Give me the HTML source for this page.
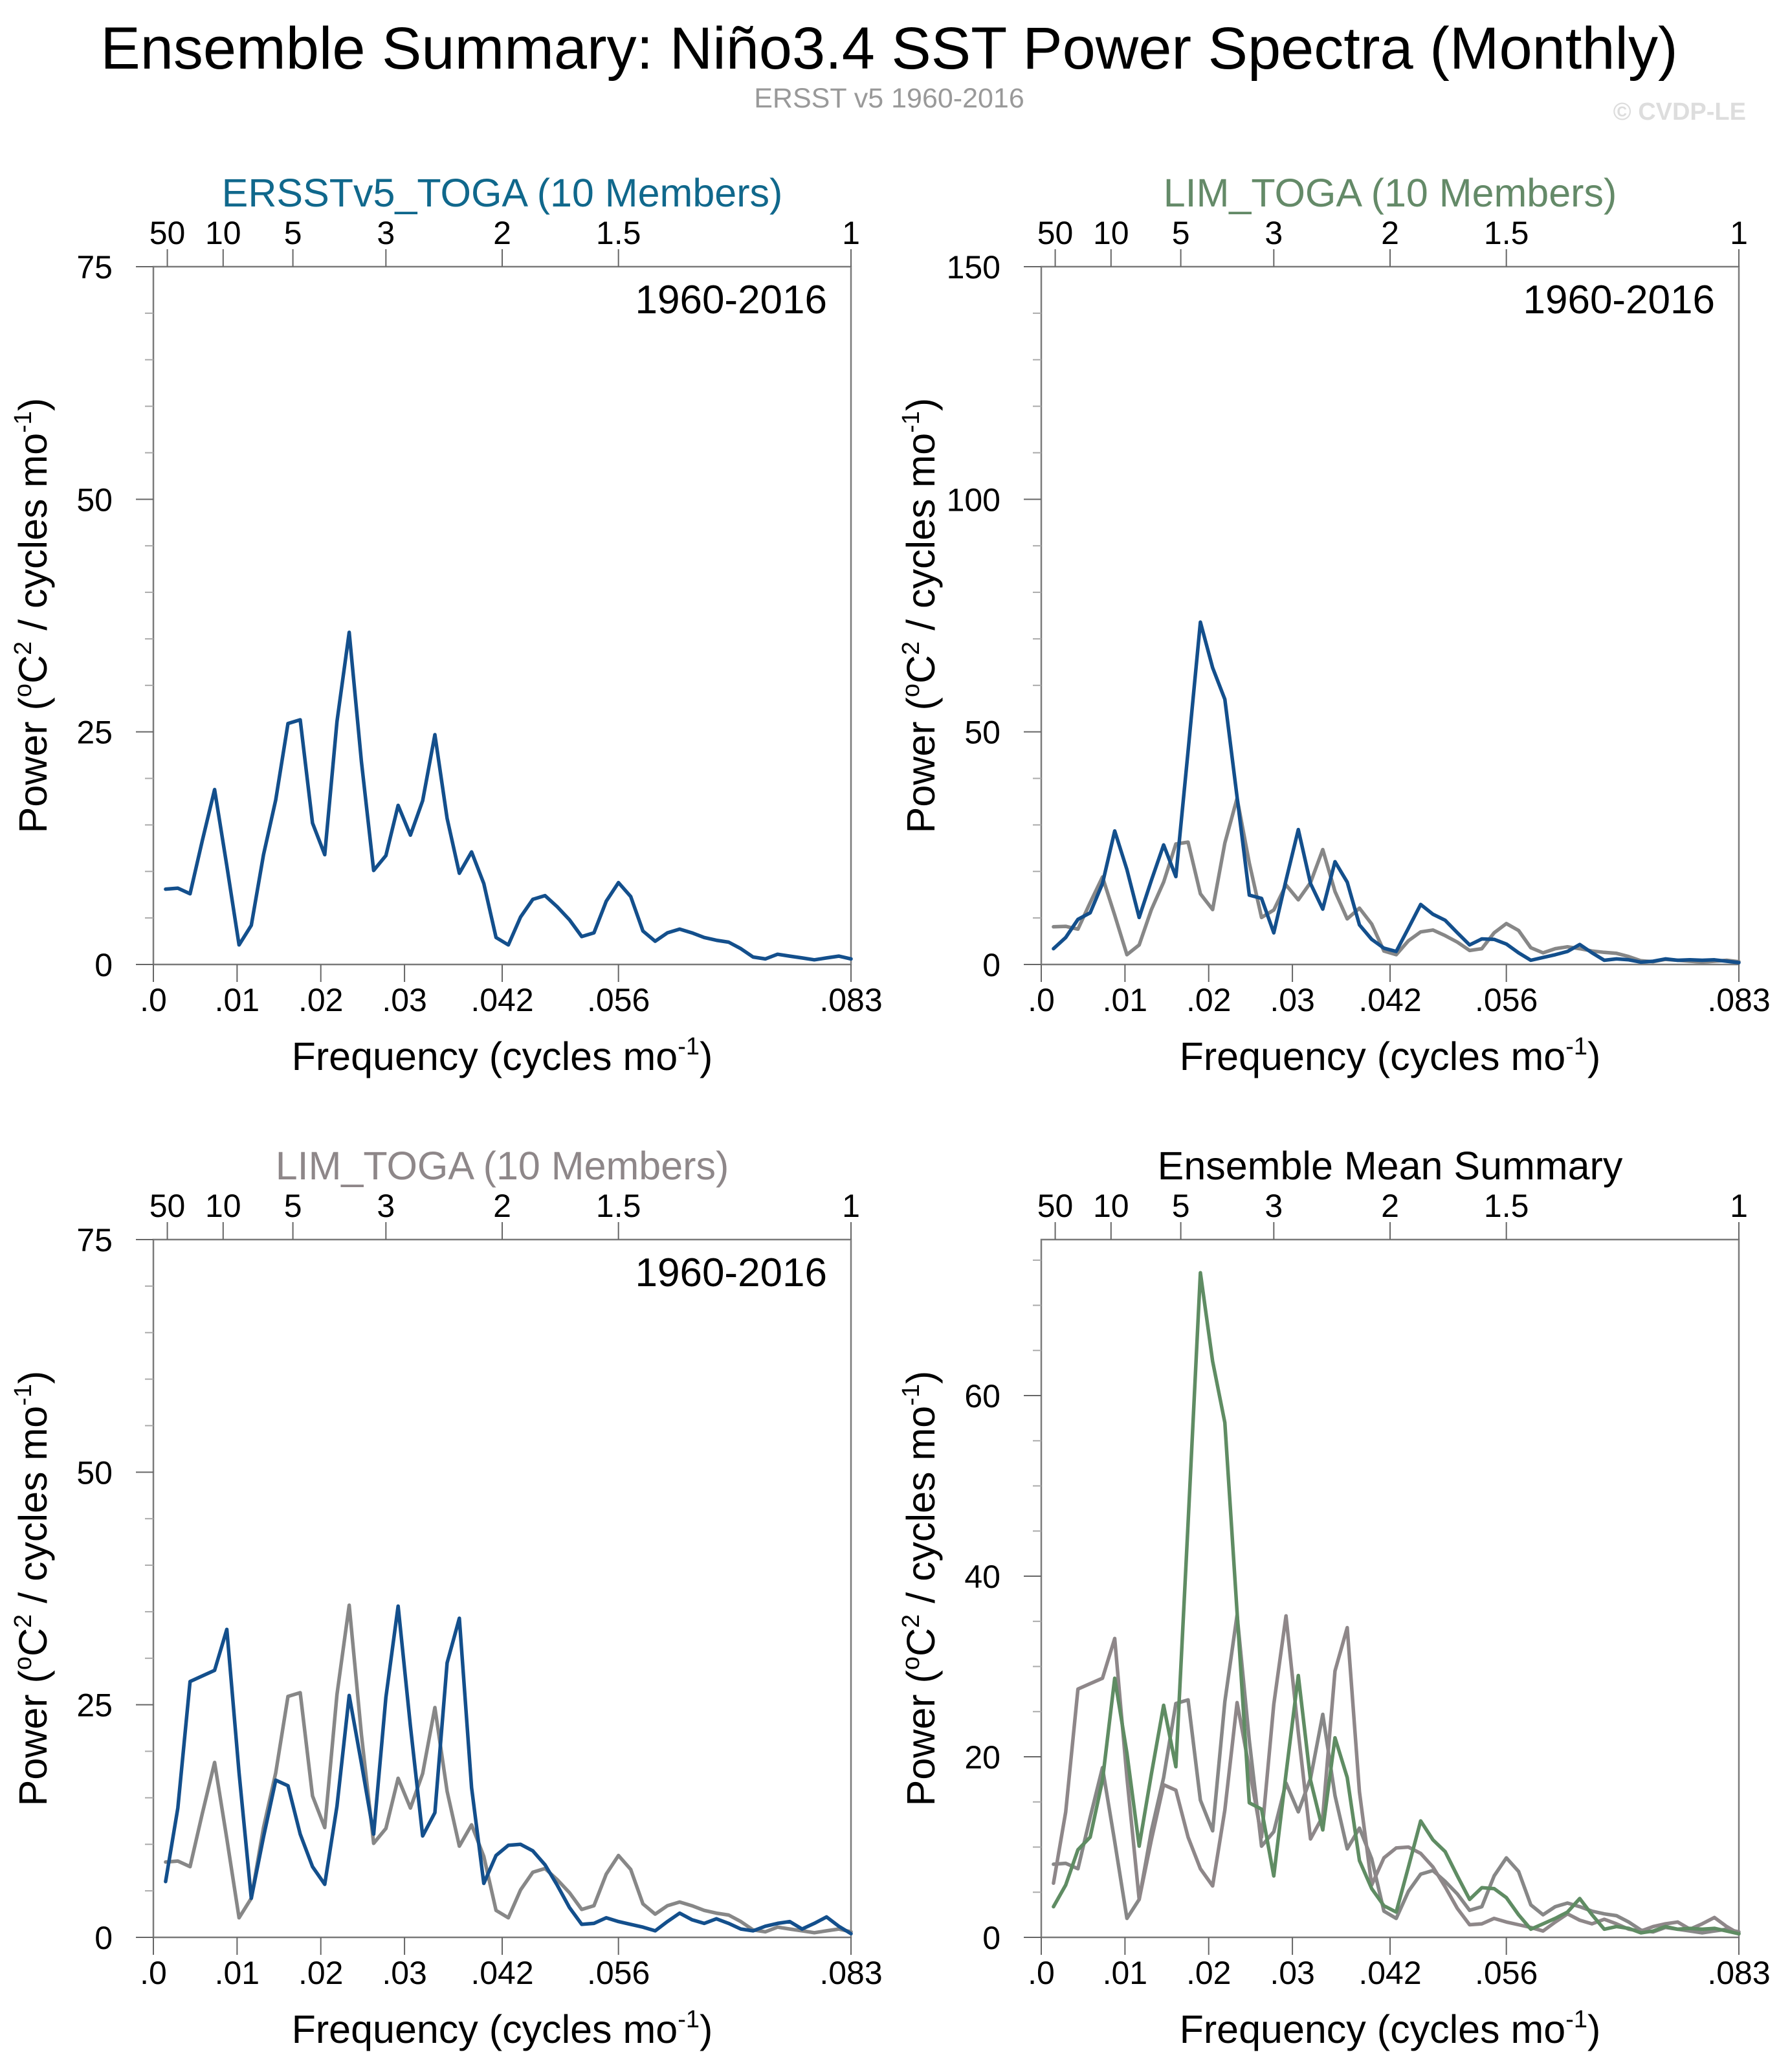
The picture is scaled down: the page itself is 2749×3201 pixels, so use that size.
<!DOCTYPE html>
<html><head><meta charset="utf-8">
<style>
html,body{margin:0;padding:0;background:#fff;}
svg{display:block;font-family:"Liberation Sans",sans-serif;}
</style></head>
<body>
<svg id="chart" width="2749" height="3201" viewBox="0 0 2749 3201" xmlns="http://www.w3.org/2000/svg">
  <rect x="0" y="0" width="2749" height="3201" fill="#fff"/>
  <text x="1374" y="106" font-size="92" text-anchor="middle" fill="#000">Ensemble Summary: Niño3.4 SST Power Spectra (Monthly)</text>
  <text x="1374" y="166" font-size="43" text-anchor="middle" fill="#999">ERSST v5 1960-2016</text>
  <text x="2698" y="185" font-size="38" font-weight="bold" text-anchor="end" fill="#ddd">© CVDP-LE</text>
</svg>
<script>
// data: 57 spectral estimates, frequency k/684 cycles per month
const ersst = [8.1,8.2,7.6,13.3,18.8,10.6,2.1,4.2,11.8,17.7,25.9,26.3,15.2,11.8,26.1,35.7,21.8,10.1,11.7,17.1,13.9,17.6,24.7,15.7,9.8,12.1,8.7,2.9,2.1,5.1,7.0,7.4,6.2,4.8,3.0,3.4,6.8,8.8,7.3,3.6,2.5,3.4,3.8,3.4,2.9,2.6,2.4,1.7,0.8,0.6,1.1,0.9,0.7,0.5,0.7,0.9,0.6];
const limA = [3.4,5.8,9.7,11.1,17.4,28.7,20.4,10.1,18.1,25.7,18.9,45.9,73.6,63.8,57.0,36.0,14.9,14.2,6.8,18.1,29.0,17.4,11.9,22.1,17.7,8.5,5.4,3.5,2.8,7.8,12.9,10.8,9.5,6.8,4.2,5.5,5.4,4.4,2.5,0.9,1.5,2.1,2.8,4.3,2.5,0.9,1.2,1.0,0.5,0.7,1.2,0.9,1.0,0.9,1.0,0.7,0.4];
const limB = [6.0,13.9,27.5,28.1,28.7,33.1,17.7,4.2,10.8,16.9,16.3,11.1,7.6,5.7,14.1,26.0,18.7,11.1,25.8,35.6,22.7,10.9,13.4,29.5,34.3,16.1,5.8,8.8,9.9,10.0,9.3,7.8,5.6,3.2,1.4,1.5,2.1,1.7,1.4,1.1,0.7,1.7,2.6,1.9,1.5,2.0,1.5,0.9,0.7,1.2,1.5,1.7,0.9,1.5,2.2,1.2,0.4];
const nMonths = 684;
const xTickVals = [0,0.01,0.02,0.03,1/24,1/18,1/12];
const xTickLabels = [".0",".01",".02",".03",".042",".056",".083"];
const periodVals = [50,10,5,3,2,1.5,1];
const periodLabels = ["50","10","5","3","2","1.5","1"];

const NS="http://www.w3.org/2000/svg";
const svg=document.getElementById('chart');
const XMAX=1/12;
function mk(tag,attrs,parent){const e=document.createElementNS(NS,tag);for(const k in attrs)e.setAttribute(k,attrs[k]);(parent||svg).appendChild(e);return e;}

const BLUE="#134f8c", GRAY="#878787", GRAY2="#8e8789", GREEN="#5f8c63";
const panels=[
 {name:'ersst-panel',L:237,T:412,title:'ERSSTv5_TOGA (10 Members)',tcol:'#10688c',ymax:75,major:25,minor:5,period:true,
  series:[{d:ersst,c:BLUE,n:'ersst-line'}]},
 {name:'lim-toga-a-panel',L:1609,T:412,title:'LIM_TOGA (10 Members)',tcol:'#648a68',ymax:150,major:50,minor:10,period:true,
  series:[{d:ersst,c:GRAY,n:'ersst-line'},{d:limA,c:BLUE,n:'lim-toga-line'}]},
 {name:'lim-toga-b-panel',L:237,T:1915,title:'LIM_TOGA (10 Members)',tcol:'#8e8789',ymax:75,major:25,minor:5,period:true,
  series:[{d:ersst,c:GRAY,n:'ersst-line'},{d:limB,c:BLUE,n:'lim-toga-line'}]},
 {name:'ensemble-mean-panel',L:1609,T:1915,title:'Ensemble Mean Summary',tcol:'#000',ymax:null,major:20,minor:5,period:false,
  series:[{d:ersst,c:GRAY,n:'ersst-line'},{d:limB,c:GRAY2,n:'lim-toga-b-line'},{d:limA,c:GREEN,n:'lim-toga-a-line'}]}
];
const W=1078,H=1078;
panels.forEach(p=>{
  const g=mk('g',{});
  
  
  let ymax=p.ymax;
  if(ymax===null){let m=0;p.series.forEach(s=>s.d.forEach(v=>{if(v>m)m=v;}));ymax=m*1.05;}
  const x=f=>p.L+f/XMAX*W;
  const y=v=>p.T+H-v/ymax*H;
  const t=mk('text',{x:p.L+W/2,y:p.T-93,'font-size':61,'text-anchor':'middle',fill:p.tcol},g);
  t.textContent=p.title;
  
  
  const fr=mk('rect',{x:p.L,y:p.T,width:W,height:H,fill:'none',stroke:'#7a7a7a','stroke-width':2.5},g);
  
  
  for(let v=0;v<=ymax+1e-9;v+=p.minor){
    const maj=Math.abs(v/p.major-Math.round(v/p.major))<1e-9;
    const tk=mk('line',{x1:p.L-(maj?27:13),x2:p.L,y1:y(v),y2:y(v),stroke:maj?'#666':'#aaa','stroke-width':2},g);
    
    
    if(maj){
      const lb=mk('text',{x:p.L-63,y:y(v)+18,'font-size':50,'text-anchor':'end',fill:'#000'},g);
      lb.textContent=String(Math.round(v));
      
      
    }
  }
  xTickVals.forEach((f,i)=>{
    const tk=mk('line',{x1:x(f),x2:x(f),y1:p.T+H,y2:p.T+H+27,stroke:'#666','stroke-width':2},g);
    
    
    const lb=mk('text',{x:x(f),y:p.T+H+72,'font-size':50,'text-anchor':'middle',fill:'#000'},g);
    lb.textContent=xTickLabels[i];
    
    
  });
  periodVals.forEach((per,i)=>{
    const f=1/(12*per);
    const tk=mk('line',{x1:x(f),x2:x(f),y1:p.T-27,y2:p.T,stroke:'#666','stroke-width':2},g);
    
    
    const lb=mk('text',{x:x(f),y:p.T-35,'font-size':50,'text-anchor':'middle',fill:'#000'},g);
    lb.textContent=periodLabels[i];
    
    
  });
  const xt=mk('text',{x:p.L+W/2,y:p.T+H+163,'font-size':61,'text-anchor':'middle',fill:'#000'},g);
  xt.innerHTML='Frequency (cycles mo<tspan dy="-24" font-size="38">-1</tspan><tspan dy="24">)</tspan>';
  
  
  const cx=p.L-165, cy=p.T+H/2;
  const yt=mk('text',{x:cx,y:cy,'font-size':61,'text-anchor':'middle',fill:'#000',transform:`rotate(-90 ${cx} ${cy})`},g);
  yt.innerHTML='Power (<tspan dy="-24" font-size="38">o</tspan><tspan dy="24">C</tspan><tspan dy="-24" font-size="38">2</tspan><tspan dy="24"> / cycles mo</tspan><tspan dy="-24" font-size="38">-1</tspan><tspan dy="24">)</tspan>';
  
  
  if(p.period){
    const yr=mk('text',{x:p.L+W-37,y:p.T+72,'font-size':62,'text-anchor':'end',fill:'#000'},g);
    yr.textContent='1960-2016';
    
    
  }
  p.series.forEach(s=>{
    const pts=s.d.map((v,i)=>x((i+1)/nMonths).toFixed(1)+','+y(v).toFixed(1)).join(' ');
    const pl=mk('polyline',{points:pts,fill:'none',stroke:s.c,'stroke-width':5.5,'stroke-linejoin':'round','stroke-linecap':'round'},g);
    
    
  });
});
</script>
</body></html>
